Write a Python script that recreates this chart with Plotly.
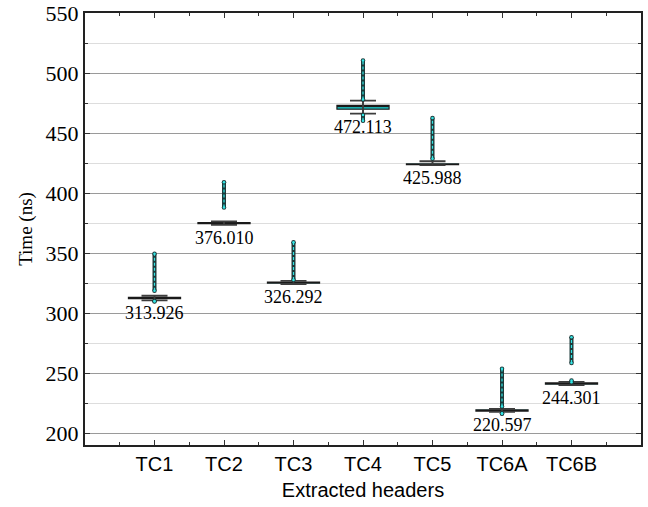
import plotly.graph_objects as go

categories = ["TC1", "TC2", "TC3", "TC4", "TC5", "TC6A", "TC6B"]
q1 = [312.0, 374.4, 324.8, 469.9, 423.6, 218.3, 240.7]
median = [312.5, 374.9, 325.3, 472.1, 424.0, 218.8, 241.2]
q3 = [313.0, 375.4, 325.8, 473.1, 424.4, 219.3, 241.7]
lowerfence = [310.6, 373.5, 324.0, 466.2, 423.2, 217.6, 240.0]
upperfence = [314.4, 376.3, 326.8, 477.0, 426.5, 220.0, 242.6]
out_hi_low = [318.5, 388.0, 327.5, 478.0, 428.5, 222.0, 258.4]
out_hi_high = [349.5, 409.0, 359.0, 510.5, 462.5, 253.5, 279.8]
out_lo_high = [310.0, None, None, 465.0, None, 216.4, 243.8]
out_lo_low = [309.6, None, None, 460.2, None, 216.0, 242.4]
labels = ["313.926", "376.010", "326.292", "472.113", "425.988", "220.597", "244.301"]

pos = [i + 1 for i in range(len(categories))]

DARK = "#1d3a3a"
CYAN = "#35e6e6"

fig = go.Figure()

# boxes
fig.add_trace(go.Box(
    x=pos, q1=q1, median=median, q3=q3,
    lowerfence=lowerfence, upperfence=upperfence,
    width=0.75, boxpoints=False,
    fillcolor="#1ddede", line=dict(color="#1a1a1a", width=1.2),
    whiskerwidth=0, hoverinfo="skip",
))

# whisker caps
fig.add_trace(go.Scatter(
    x=pos, y=median, mode="markers",
    marker=dict(size=2, color="rgba(0,0,0,0)"),
    error_y=dict(type="data", symmetric=False,
                 array=[u - m for u, m in zip(upperfence, median)],
                 arrayminus=[m - l for m, l in zip(median, lowerfence)],
                 width=13, thickness=1.8, color="#3d3d3d"),
    hoverinfo="skip",
))

# outliers as dense dotted columns
xs, ys = [], []
for p, a, b in zip(pos, out_hi_low, out_hi_high):
    xs += [p, p, None]
    ys += [a, b, None]
for p, a, b in zip(pos, out_lo_low, out_lo_high):
    if a is not None:
        xs += [p, p, None]
        ys += [a, b, None]

fig.add_trace(go.Scatter(x=xs, y=ys, mode="lines+markers",
                         line=dict(color=DARK, width=4),
                         marker=dict(size=4.5, color=DARK), hoverinfo="skip"))
fig.add_trace(go.Scatter(x=xs, y=ys, mode="lines+markers",
                         line=dict(color=CYAN, width=1.2, dash="3px,2px"),
                         marker=dict(size=2.5, color=CYAN),
                         hoverinfo="skip"))

for p, lf, t in zip(pos, lowerfence, labels):
    fig.add_annotation(x=p, y=lf, text=t, showarrow=False, yanchor="top",
                       yshift=-1, font=dict(family="Liberation Serif", size=18, color="black"))

fig.update_layout(
    width=648, height=507,
    margin=dict(l=85, r=7, t=13, b=62),
    plot_bgcolor="white", paper_bgcolor="white",
    showlegend=False,
)

fig.update_xaxes(
    range=[0, 8], tickmode="array", tickvals=pos, ticktext=categories,
    ticks="inside", ticklen=5, tickwidth=1, tickcolor="#333",
    showline=True, linecolor="#222", linewidth=2, mirror="ticks",
    showgrid=False, zeroline=False, automargin=False,
    tickfont=dict(family="Liberation Sans", size=20, color="black"),
    title=dict(text="Extracted headers", standoff=9,
               font=dict(family="Liberation Sans", size=20, color="black")),
    minor=dict(tick0=0.5, dtick=1, ticks="inside", ticklen=3, tickcolor="#333"),
)

fig.update_yaxes(
    range=[190, 550.05], tickmode="array",
    tickvals=[200, 250, 300, 350, 400, 450, 500, 550],
    ticklabeloverflow="allow", automargin=False,
    ticks="inside", ticklen=5, tickwidth=1, tickcolor="#333",
    showline=True, linecolor="#222", linewidth=2, mirror="ticks",
    showgrid=True, gridcolor="#9a9a9a", gridwidth=1, zeroline=False,
    tickfont=dict(family="Liberation Serif", size=22, color="black"),
    title=dict(text="Time (ns)", standoff=8,
               font=dict(family="Liberation Serif", size=19, color="black")),
    minor=dict(tickmode="array", tickvals=[225, 275, 325, 375, 425, 475, 525],
               ticks="inside", ticklen=3, tickcolor="#333",
               showgrid=True, gridcolor="#dddddd", gridwidth=1),
)

fig.write_html("out.html")
